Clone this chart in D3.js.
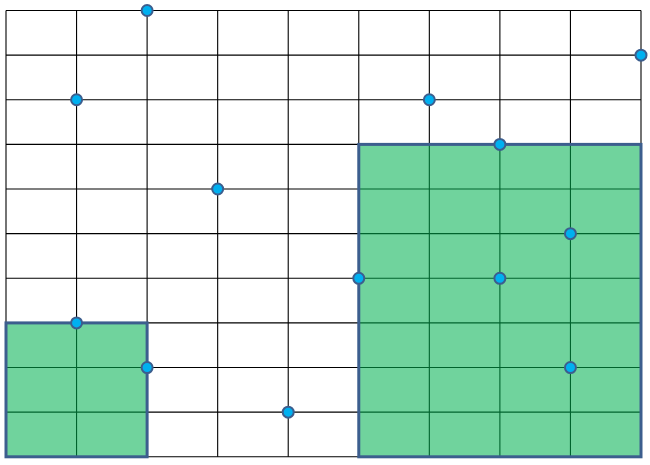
<!DOCTYPE html>
<html><head><meta charset="utf-8">
<script src="https://cdn.jsdelivr.net/npm/d3@7"></script>
<style>html,body{margin:0;padding:0;background:#fff;}svg{display:block;}</style>
</head><body>
<svg id="chart" width="650" height="465"></svg>
<script>
// Grid extents
const xDomain = [0, 9];
const yDomain = [0, 10];
const xTicks = [0,1,2,3,4,5,6,7,8,9];
const yTicks = [0,1,2,3,4,5,6,7,8,9,10];
// Points
const pointX = [2, 1, 3, 1, 2, 4, 5, 6, 7, 7, 8, 8, 9];
const pointY = [10, 8, 6, 3, 2, 1, 4, 8, 7, 4, 5, 2, 9];
// Rectangles (x0, x1, y0, y1)
const rectX0 = [0, 5];
const rectX1 = [2, 9];
const rectY0 = [0, 0];
const rectY1 = [3, 7];

const svg = d3.select("#chart");
const x = d3.scaleLinear().domain(xDomain).range([6, 641]);
const y = d3.scaleLinear().domain(yDomain).range([456.8, 10.5]);

const g = svg.append("g");
// grid lines
g.selectAll("line.v").data(xTicks).join("line")
  .attr("x1", d => x(d)).attr("x2", d => x(d))
  .attr("y1", y(10)).attr("y2", y(0))
  .attr("stroke", "#000").attr("stroke-width", 1.1);
g.selectAll("line.h").data(yTicks).join("line")
  .attr("y1", d => y(d)).attr("y2", d => y(d))
  .attr("x1", x(0)).attr("x2", x(9))
  .attr("stroke", "#000").attr("stroke-width", 1.1);

// rectangles
const rects = rectX0.map((d, i) => ({x0: d, x1: rectX1[i], y0: rectY0[i], y1: rectY1[i]}));
g.selectAll("rect.area").data(rects).join("rect")
  .attr("x", d => x(d.x0)).attr("y", d => y(d.y1))
  .attr("width", d => x(d.x1) - x(d.x0)).attr("height", d => y(d.y0) - y(d.y1))
  .attr("fill", "#00b050").attr("fill-opacity", 0.56)
  .attr("stroke", "#3c5e8e").attr("stroke-width", 3);

// points
const pts = pointX.map((d, i) => ({x: d, y: pointY[i]}));
g.selectAll("circle").data(pts).join("circle")
  .attr("cx", d => x(d.x)).attr("cy", d => y(d.y)).attr("r", 5.5)
  .attr("fill", "#00b0f0").attr("stroke", "#3c5e8e").attr("stroke-width", 2);
</script>
</body></html>
